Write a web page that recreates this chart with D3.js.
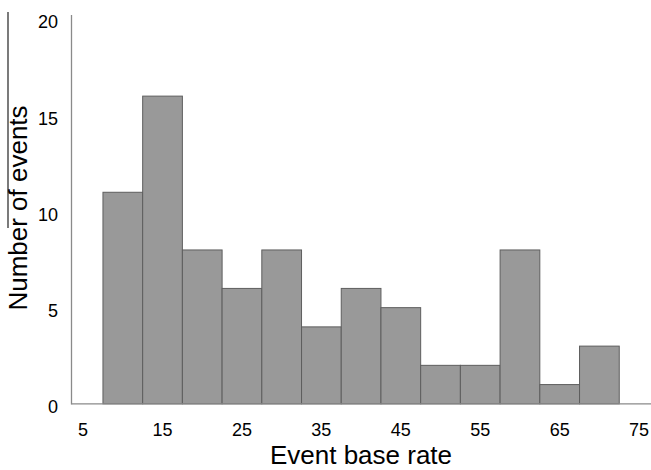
<!DOCTYPE html>
<html>
<head>
<meta charset="utf-8">
<script src="https://cdn.jsdelivr.net/npm/d3@7/dist/d3.min.js"></script>
<style>
  html, body { margin: 0; padding: 0; background: #fff; }
  svg { display: block; font-family: "Liberation Sans", Arial, sans-serif; }
</style>
</head>
<body>
<svg id="chart" width="651" height="470"></svg>
<script>
// Data
const binStarts = [7.5, 12.5, 17.5, 22.5, 27.5, 32.5, 37.5, 42.5, 47.5, 52.5, 57.5, 62.5, 67.5];
const counts    = [11, 16, 8, 6, 8, 4, 6, 5, 2, 2, 8, 1, 3];
const binWidth  = 5;
const xTicks    = [5, 15, 25, 35, 45, 55, 65, 75];
const yTicks    = [0, 5, 10, 15, 20];

const svg = d3.select("#chart");

const x = d3.scaleLinear().domain([5, 75]).range([83.1, 639.1]);
const y = d3.scaleLinear().domain([0, 20]).range([403.8, 19.2]);

// stray border line at left (from original figure)
svg.append("line")
  .attr("x1", 8).attr("x2", 8).attr("y1", 12).attr("y2", 228)
  .attr("stroke", "#222").attr("stroke-width", 1.2);

// bars
svg.append("g").selectAll("rect")
  .data(binStarts.map((s, i) => ({ s, c: counts[i] })))
  .join("rect")
  .attr("x", d => x(d.s))
  .attr("width", d => x(d.s + binWidth) - x(d.s))
  .attr("y", d => y(d.c))
  .attr("height", d => y(0) - y(d.c))
  .attr("fill", "#999999")
  .attr("stroke", "#5e5e5e")
  .attr("stroke-width", 1);

// x axis line
svg.append("line")
  .attr("x1", 71.5).attr("x2", 651).attr("y1", y(0)).attr("y2", y(0))
  .attr("stroke", "#8a8a8a").attr("stroke-width", 1.3);

// y axis line
svg.append("line")
  .attr("x1", 71.5).attr("x2", 71.5).attr("y1", 15).attr("y2", y(0) + 0.6)
  .attr("stroke", "#8a8a8a").attr("stroke-width", 1.3);

// x tick labels
svg.append("g").selectAll("text")
  .data(xTicks)
  .join("text")
  .attr("x", d => x(d))
  .attr("y", 435.5)
  .attr("text-anchor", "middle")
  .attr("font-size", 18)
  .attr("fill", "#000")
  .text(d => d);

// y tick labels
svg.append("g").selectAll("text")
  .data(yTicks)
  .join("text")
  .attr("x", 58)
  .attr("y", d => y(d) + 9.2)
  .attr("text-anchor", "end")
  .attr("font-size", 18)
  .attr("fill", "#000")
  .text(d => d);

// axis titles
svg.append("text")
  .attr("x", 361).attr("y", 464)
  .attr("text-anchor", "middle")
  .attr("font-size", 26)
  .attr("fill", "#000")
  .text("Event base rate");

svg.append("text")
  .attr("transform", "translate(27,208) rotate(-90)")
  .attr("text-anchor", "middle")
  .attr("font-size", 26)
  .attr("fill", "#000")
  .text("Number of events");
</script>
</body>
</html>
